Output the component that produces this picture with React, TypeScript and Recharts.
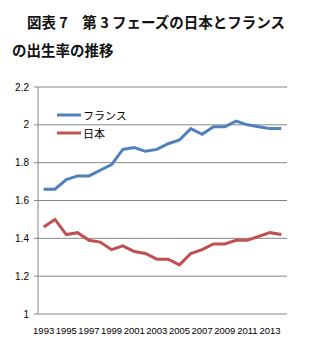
import { LineChart, Line, XAxis, YAxis, CartesianGrid, Legend } from "recharts";

const years = [
  1993, 1994, 1995, 1996, 1997, 1998, 1999, 2000, 2001, 2002, 2003, 2004,
  2005, 2006, 2007, 2008, 2009, 2010, 2011, 2012, 2013, 2014,
];
const france = [
  1.66, 1.66, 1.71, 1.73, 1.73, 1.76, 1.79, 1.87, 1.88, 1.86, 1.87, 1.9,
  1.92, 1.98, 1.95, 1.99, 1.99, 2.02, 2.0, 1.99, 1.98, 1.98,
];
const japan = [
  1.46, 1.5, 1.42, 1.43, 1.39, 1.38, 1.34, 1.36, 1.33, 1.32, 1.29, 1.29,
  1.26, 1.32, 1.34, 1.37, 1.37, 1.39, 1.39, 1.41, 1.43, 1.42,
];
const yTicks = [1, 1.2, 1.4, 1.6, 1.8, 2, 2.2];
const labelYears = years.filter((y) => y % 2 === 1);
const boundaryTicks = [...years.map((y) => y - 0.5), years[years.length - 1] + 0.5];

const data = years.map((year, i) => ({
  year,
  france: france[i],
  japan: japan[i],
}));

const domainX: [number, number] = [years[0] - 0.5, years[years.length - 1] + 0.5];
const axisFont = { fontSize: 10, fill: "#000", fontFamily: "Liberation Sans, Arial, sans-serif" };
const xFont = { ...axisFont, fontSize: 9.5 };
const cjk = '"Noto Sans CJK JP", sans-serif';

function LegendBox({ payload }: any) {
  return (
    <div style={{ fontFamily: cjk, fontSize: 11, color: "#000" }}>
      {(payload || []).map((p: any) => (
        <div key={p.value} style={{ display: "flex", alignItems: "center", height: 18 }}>
          <svg width={24} height={6} style={{ marginRight: 2 }}>
            <line x1={0} y1={3} x2={24} y2={3} stroke={p.color} strokeWidth={3} />
          </svg>
          <span>{p.value}</span>
        </div>
      ))}
    </div>
  );
}

export default function App() {
  return (
    <div
      style={{
        position: "absolute",
        left: 0,
        top: 0,
        width: 327,
        height: 358,
        background: "#fff",
      }}
    >
      <div
        style={{
          position: "absolute",
          left: 27,
          top: 11,
          fontFamily: cjk,
          fontWeight: "bold",
          fontSize: 14.5,
          lineHeight: "22px",
          whiteSpace: "pre",
          color: "#111",
        }}
      >
        {"図表 7　第 3 フェーズの日本とフランス"}
      </div>
      <div
        style={{
          position: "absolute",
          left: 12,
          top: 39,
          fontFamily: cjk,
          fontWeight: "bold",
          fontSize: 14.5,
          lineHeight: "22px",
          color: "#111",
        }}
      >
        の出生率の推移
      </div>
      <LineChart
        width={327}
        height={358}
        data={data}
        margin={{ top: 87, right: 40, bottom: 24, left: 0 }}
        style={{ position: "absolute", left: 0, top: 0 }}
      >
        <CartesianGrid vertical={false} stroke="#868686" strokeWidth={1} />
        <XAxis
          xAxisId="marks"
          type="number"
          dataKey="year"
          domain={domainX}
          ticks={boundaryTicks}
          tick={false}
          tickSize={5}
          height={0}
          stroke="#868686"
          allowDataOverflow
        />
        <XAxis
          type="number"
          dataKey="year"
          domain={domainX}
          ticks={labelYears}
          interval={0}
          tickLine={false}
          axisLine={false}
          tick={xFont}
          tickMargin={7}
          height={20}
          allowDataOverflow
        />
        <YAxis
          domain={[1, 2.2]}
          ticks={yTicks}
          width={38}
          tick={axisFont}
          tickSize={4}
          tickMargin={5}
          stroke="#868686"
          interval={0}
        />
        <Legend
          layout="vertical"
          verticalAlign="middle"
          align="center"
          content={<LegendBox />}
          wrapperStyle={{ position: "absolute", left: 57, top: 106, width: 100 }}
        />
        <Line
          dataKey="france"
          name="フランス"
          stroke="#4F81BD"
          strokeWidth={3}
          dot={false}
          isAnimationActive={false}
        />
        <Line
          dataKey="japan"
          name="日本"
          stroke="#C0504D"
          strokeWidth={3}
          dot={false}
          isAnimationActive={false}
        />
      </LineChart>
    </div>
  );
}
